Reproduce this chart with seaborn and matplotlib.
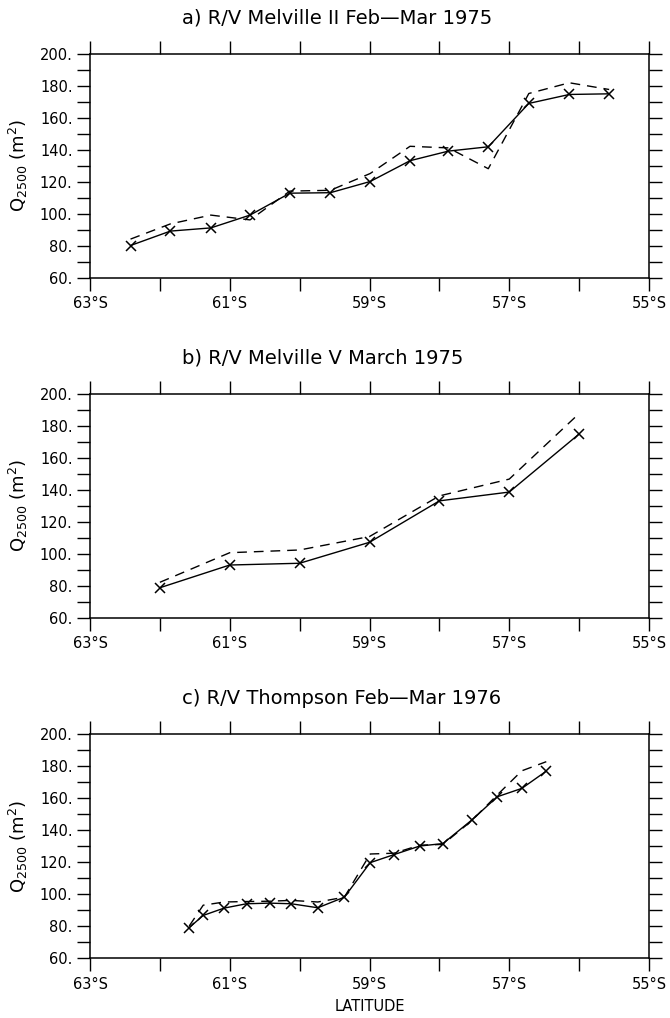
import matplotlib
matplotlib.use("Agg")
import matplotlib.pyplot as plt
from matplotlib.ticker import MultipleLocator, FixedLocator, FuncFormatter
import seaborn as sns
import pandas as pd

sns.set_theme(style="ticks")
plt.rcParams['font.family'] = ['DejaVu Sans']

# ---- data (latitude in degrees, negative = south) ----
titles = ["a) R/V Melville II Feb\u2014Mar 1975",
          "b) R/V Melville V March 1975",
          "c) R/V Thompson Feb\u2014Mar 1976"]

lat_a = [-62.42, -61.85, -61.27, -60.71, -60.14, -59.56, -58.99,
         -58.42, -57.87, -57.30, -56.72, -56.14, -55.57]
solid_a = [80, 89, 91, 99, 112.7, 113, 120, 133, 139, 141.7, 168.8, 174.4, 174.8]
dash_a = [84, 93.5, 99, 96, 114, 114.5, 125, 142, 141, 128, 175, 181.7, 177.5]

lat_b = [-62.0, -61.0, -60.0, -59.0, -58.0, -57.0, -56.0]
solid_b = [78.6, 92.8, 93.9, 107, 132.9, 138.4, 174.7]
dash_b = [82, 100.5, 102.2, 110.6, 136, 146.5, 187.5]

lat_c = [-61.58, -61.38, -61.08, -60.76, -60.43, -60.12, -59.74, -59.36,
         -58.99, -58.65, -58.28, -57.95, -57.54, -57.17, -56.82, -56.47]
solid_c = [79, 86.6, 91.2, 93.9, 94.3, 93.9, 91.4, 98, 119.6, 124.6,
           130, 131.5, 146.1, 160.8, 166, 176.8]
dash_c = [80, 93, 95, 95.3, 95.5, 96, 95, 98, 125, 125.5, 130.5, 131,
          145.7, 162, 177, 182.7]

lat_ticks = [-63, -61, -59, -57, -55]
y_ticks = [60, 80, 100, 120, 140, 160, 180, 200]

panels = [(lat_a, solid_a, dash_a), (lat_b, solid_b, dash_b), (lat_c, solid_c, dash_c)]

fig = plt.figure(figsize=(6.7, 10.18), dpi=100)
W, H = 670.0, 1018.0
left, right = 90.0, 649.0
tops = [53.5, 393.5, 734.0]
ph = 224.0

lat_fmt = FuncFormatter(lambda v, p: f"{abs(int(round(v)))}\u00b0S")
y_fmt = FuncFormatter(lambda v, p: f"{int(round(v))}.")

for i, (lat, sol, dsh) in enumerate(panels):
    ax = fig.add_axes([left / W, 1 - (tops[i] + ph) / H, (right - left) / W, ph / H])
    df = pd.DataFrame({"lat": lat, "solid": sol, "dash": dsh})
    sns.lineplot(data=df, x="lat", y="dash", ax=ax, color="black",
                 linewidth=1.0, linestyle=(0, (7, 5)), sort=False, estimator=None)
    sns.lineplot(data=df, x="lat", y="solid", ax=ax, color="black",
                 linewidth=1.0, marker="x", markersize=7, markeredgewidth=1.1,
                 markeredgecolor="black", sort=False, estimator=None)
    ax.set_xlim(-63, -55)
    ax.set_ylim(60, 200)
    ax.xaxis.set_major_locator(FixedLocator(lat_ticks))
    ax.xaxis.set_minor_locator(MultipleLocator(1))
    ax.yaxis.set_major_locator(FixedLocator(y_ticks))
    ax.yaxis.set_minor_locator(MultipleLocator(10))
    ax.xaxis.set_major_formatter(lat_fmt)
    ax.yaxis.set_major_formatter(y_fmt)
    ax.tick_params(which="both", direction="out", length=9.5, width=1.0,
                   color="black", top=True, right=True,
                   labeltop=False, labelright=False, labelsize=10.5,
                   labelcolor="black")
    ax.tick_params(axis="x", pad=4)
    ax.tick_params(axis="y", pad=3)
    for s in ax.spines.values():
        s.set_visible(True)
        s.set_color("black")
        s.set_linewidth(1.1)
    ax.text((182 - left) / (right - left), 1 + 30.5 / ph, titles[i],
            transform=ax.transAxes, ha="left", va="baseline",
            fontsize=14, color="black")
    ax.set_ylabel("Q$_{2500}$ (m$^2$)", fontsize=13, color="black")
    ax.yaxis.set_label_coords(-0.107, 0.5)
    if i == 2:
        ax.set_xlabel("LATITUDE", fontsize=10.5, color="black", labelpad=5)
    else:
        ax.set_xlabel("")

fig.savefig("out.png", dpi=100)
